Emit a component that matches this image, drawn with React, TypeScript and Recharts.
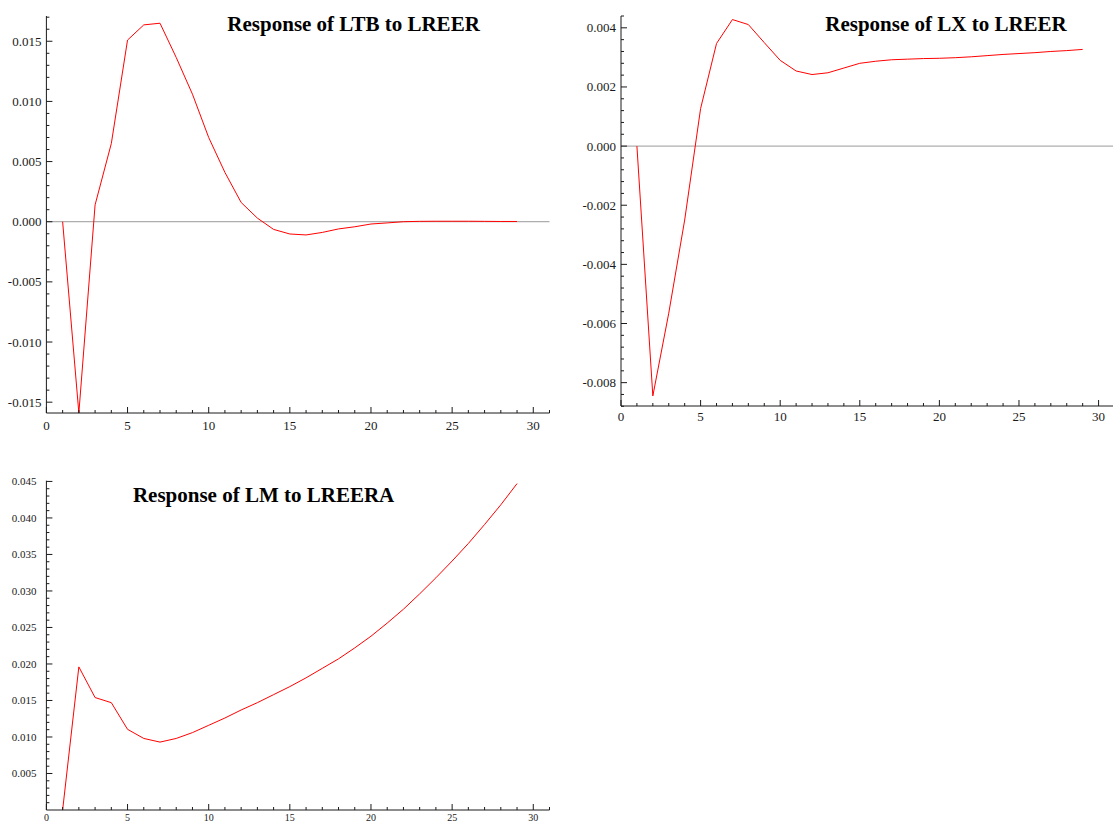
import { LineChart, Line, XAxis, YAxis, ReferenceLine } from "recharts";

// impulse response periods
const periods = [
  1, 2, 3, 4, 5, 6, 7, 8, 9, 10, 11, 12, 13, 14, 15, 16, 17, 18, 19, 20, 21, 22,
  23, 24, 25, 26, 27, 28, 29,
];

const ltbResponse = [
  0, -0.0159, 0.0014, 0.0065, 0.0151, 0.01636, 0.0165, 0.01365, 0.0106, 0.007,
  0.0041, 0.0016, 0.0003, -0.00064, -0.00102, -0.0011, -0.00089, -0.0006,
  -0.00042, -0.00019, -0.0001, 0, 0.00003, 0.00004, 0.00004, 0.00004, 0.00003,
  0.00002, 0.00002,
];

const lxResponse = [
  0, -0.00845, -0.00565, -0.0025, 0.00127, 0.00347, 0.00428, 0.00411, 0.0035,
  0.0029, 0.00254, 0.00242, 0.00248, 0.00264, 0.0028, 0.00287, 0.00292, 0.00294,
  0.00296, 0.00297, 0.00299, 0.00302, 0.00306, 0.0031, 0.00313, 0.00316, 0.0032,
  0.00323, 0.00327,
];

const lmResponse = [
  0, 0.0196, 0.0154, 0.0147, 0.01105, 0.0098, 0.0093, 0.0098, 0.0106, 0.0116,
  0.0126, 0.0137, 0.0147, 0.0158, 0.0169, 0.0181, 0.0194, 0.0207, 0.0222,
  0.0238, 0.0256, 0.0275, 0.0296, 0.0318, 0.0341, 0.0365, 0.0391, 0.0418,
  0.0447,
];

const xTicks = [
  0, 1, 2, 3, 4, 5, 6, 7, 8, 9, 10, 11, 12, 13, 14, 15, 16, 17, 18, 19, 20, 21,
  22, 23, 24, 25, 26, 27, 28, 29, 30, 31,
];
const xMajorTicks = [0, 5, 10, 15, 20, 25, 30];

const ltbMajorTicks = [-0.015, -0.01, -0.005, 0, 0.005, 0.01, 0.015];
const lxMajorTicks = [-0.008, -0.006, -0.004, -0.002, 0, 0.002, 0.004];
const lmMajorTicks = [
  0.005, 0.01, 0.015, 0.02, 0.025, 0.03, 0.035, 0.04, 0.045,
];

const FONT = "'Liberation Serif', 'Times New Roman', serif";
const INK = "#1a1a1a";
const Y_AXIS_W = 40;

// minor tick marks between min and max (labels only on the major ones)
function minorTicks(min: number, max: number, step: number) {
  const out: number[] = [];
  const n = Math.round((max - min) / step);
  for (let i = 0; i <= n; i++) out.push(+(min + i * step).toFixed(6));
  return out;
}

function makeYTick(major: number[], fontSize: number, gap: number) {
  return (props: any) => {
    const { x, y, payload } = props;
    const isMajor = major.some((m) => Math.abs(m - payload.value) < 1e-9);
    return (
      <g>
        <line x1={x} x2={x + (isMajor ? 6 : 3)} y1={y} y2={y} stroke={INK} />
        {isMajor && (
          <text
            x={x - gap}
            y={y}
            textAnchor="end"
            dominantBaseline="central"
            fontSize={fontSize}
            fontFamily={FONT}
            fill={INK}
          >
            {payload.value.toFixed(3)}
          </text>
        )}
      </g>
    );
  };
}

function makeXTick(fontSize: number, dy: number) {
  return (props: any) => {
    const { x, y, payload } = props;
    const isMajor = xMajorTicks.includes(payload.value);
    return (
      <g>
        <line x1={x} x2={x} y1={y} y2={y - (isMajor ? 6 : 3)} stroke={INK} />
        {isMajor && (
          <text
            x={x}
            y={y + dy}
            textAnchor="middle"
            dominantBaseline="central"
            fontSize={fontSize}
            fontFamily={FONT}
            fill={INK}
          >
            {payload.value}
          </text>
        )}
      </g>
    );
  };
}

type PanelProps = {
  values: number[];
  left: number;
  top: number;
  width: number;
  height: number;
  margin: { top: number; right: number; bottom: number; left: number };
  xAxisH: number;
  yDomain: [number, number];
  yTicks: number[];
  yMajor: number[];
  fontSize: number;
  xFontSize: number;
  yGap: number;
  xDy: number;
  zeroLine: boolean;
};

function Panel(p: PanelProps) {
  const data = periods.map((t, i) => ({ t, v: p.values[i] }));
  return (
    <div style={{ position: "absolute", left: p.left, top: p.top }}>
      <LineChart width={p.width} height={p.height} data={data} margin={p.margin}>
        <XAxis
          dataKey="t"
          type="number"
          domain={[0, 31]}
          ticks={xTicks}
          interval={0}
          height={p.xAxisH}
          tickSize={0}
          tickMargin={0}
          tickLine={false}
          axisLine={{ stroke: INK }}
          tick={makeXTick(p.xFontSize, p.xDy)}
          allowDataOverflow
        />
        <YAxis
          type="number"
          domain={p.yDomain}
          ticks={p.yTicks}
          interval={0}
          width={Y_AXIS_W}
          tickSize={0}
          tickMargin={0}
          tickLine={false}
          axisLine={{ stroke: INK }}
          tick={makeYTick(p.yMajor, p.fontSize, p.yGap)}
          allowDataOverflow
        />
        {p.zeroLine && <ReferenceLine y={0} stroke="#9a9a9a" strokeWidth={1} />}
        <Line
          type="linear"
          dataKey="v"
          stroke="#ff0000"
          strokeWidth={1}
          dot={false}
          isAnimationActive={false}
        />
      </LineChart>
    </div>
  );
}

export default function App() {
  return (
    <div
      style={{
        position: "absolute",
        left: 0,
        top: 0,
        width: 1113,
        height: 823,
        overflow: "hidden",
        background: "#fff",
      }}
    >
      <Panel
        values={ltbResponse}
        left={0}
        top={0}
        width={560}
        height={445}
        margin={{ top: 16, right: 10.5, bottom: 15, left: 46.4 - Y_AXIS_W }}
        xAxisH={17}
        yDomain={[-0.0159, 0.0171]}
        yTicks={minorTicks(-0.015, 0.017, 0.001)}
        yMajor={ltbMajorTicks}
        fontSize={13}
        xFontSize={13}
        yGap={5}
        xDy={12}
        zeroLine
      />
      <Panel
        values={lxResponse}
        left={560}
        top={0}
        width={560}
        height={445}
        margin={{ top: 16, right: 5.5, bottom: 19, left: 61 - Y_AXIS_W }}
        xAxisH={20}
        yDomain={[-0.00879, 0.0044]}
        yTicks={minorTicks(-0.0088, 0.0044, 0.0004)}
        yMajor={lxMajorTicks}
        fontSize={13}
        xFontSize={13}
        yGap={5}
        xDy={10.7}
        zeroLine
      />
      <Panel
        values={lmResponse}
        left={0}
        top={460}
        width={560}
        height={363}
        margin={{ top: 20.7, right: 10.5, bottom: 0, left: 46.4 - Y_AXIS_W }}
        xAxisH={13}
        yDomain={[0, 0.0451]}
        yTicks={minorTicks(0.001, 0.045, 0.001)}
        yMajor={lmMajorTicks}
        fontSize={11}
        xFontSize={10}
        yGap={10}
        xDy={7.5}
        zeroLine={false}
      />
      <svg
        width={1113}
        height={823}
        style={{ position: "absolute", left: 0, top: 0, pointerEvents: "none" }}
      >
        <g fontFamily={FONT} fontWeight="bold" fontSize={21} fill="#000" textAnchor="middle">
          <text x={353.6} y={31}>Response of LTB to LREER</text>
          <text x={946} y={30.7}>Response of LX to LREER</text>
          <text x={263.6} y={502.3}>Response of LM to LREERA</text>
        </g>
      </svg>
    </div>
  );
}
